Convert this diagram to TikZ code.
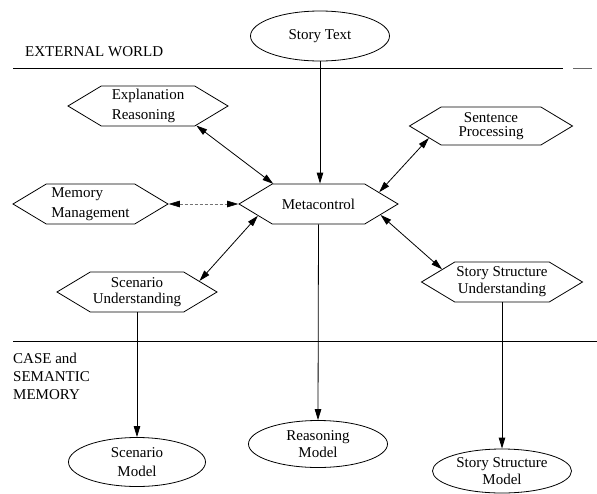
\documentclass[tikz,border=0pt]{standalone}
\usepackage{fontspec}
\setmainfont{Liberation Serif}
\usetikzlibrary{shapes.geometric,shapes.symbols,arrows.meta}
\tikzset{
  txt/.style={font=\fontsize{15}{17}\selectfont},
  hexa/.style={txt, draw, line width=0.8pt, shape=signal, signal to=east and west,
    signal pointer angle=62, minimum width=160pt, minimum height=40pt,
    inner sep=1pt, align=center},
  oval/.style={txt, draw, line width=0.8pt, ellipse, minimum width=139pt,
    minimum height=48pt, inner sep=0pt, align=center},
  conn/.style={line width=0.8pt, -{Triangle[length=11pt,width=6.5pt]}},
  biconn/.style={line width=0.8pt, {Triangle[length=11pt,width=6.5pt]}-{Triangle[length=11pt,width=6.5pt]}},
  faintbiconn/.style={draw=black!55, line width=0.6pt, densely dashed,
    {Triangle[length=11pt,width=6.5pt,color=black]}-{Triangle[length=11pt,width=6.5pt,color=black]}},
  divider/.style={line width=0.8pt},
  region/.style={txt, anchor=west, align=left, inner sep=0pt}
}
\begin{document}
\begin{tikzpicture}[x=1pt,y=-1pt]
\useasboundingbox (0,0) rectangle (597,493);
% dividers
\draw[divider] (13,68) -- (563,68);
\draw[divider, black!60] (573,68) -- (592,68);
\draw[divider] (13,341) -- (597,341);
% region labels
\node[region] (ext) at (25,52) {EXTERNAL WORLD};
\node[region, font=\fontsize{15}{18}\selectfont] (mem2) at (13,376) {CASE and\\SEMANTIC\\MEMORY};
% nodes
\node[oval, minimum height=50pt] (story) at (320,36) {Story Text};
\node[hexa, align=left, font=\fontsize{15}{20}\selectfont] (expl) at (148,106) {Explanation\\Reasoning};
\node[hexa, minimum width=163pt, minimum height=38pt, font=\fontsize{15}{14}\selectfont] (sent) at (491,126) {Sentence\\Processing};
\node[hexa, minimum width=155pt, align=left, font=\fontsize{15}{20}\selectfont] (mem) at (90.5,204) {Memory\\Management};
\node[hexa, minimum width=159pt] (meta) at (318.5,204) {Metacontrol};
\node[hexa, font=\fontsize{15}{15.5}\selectfont] (scen) at (137,292) {Scenario\\Understanding};
\node[hexa, minimum width=161pt] (ssu) at (502,282) {Story Structure\\Understanding};
\node[oval, minimum width=137pt, minimum height=49pt, font=\fontsize{15}{19}\selectfont] (scenm) at (137,462) {Scenario\\Model};
\node[oval, minimum height=47pt] (reasm) at (318,444) {Reasoning\\Model};
\node[oval, minimum height=44pt] (ssm) at (502,471) {Story Structure\\Model};
% connectors
\draw[conn] (story.south) -- (story.south |- meta.north);
\draw[biconn] (expl.-22) -- (meta.156);
\draw[biconn] (sent.191.5) -- (meta.11);
\draw[faintbiconn] (mem.east) -- (meta.west);
\draw[biconn] (meta.191) -- (scen.10.7);
\draw[biconn] (meta.-10) -- (ssu.168.5);
\draw[conn] (meta.south) -- (reasm.north);
\draw[conn] (scen.south) -- (scenm.north);
\draw[conn] (ssu.south) -- (ssm.north);
\end{tikzpicture}
\end{document}
